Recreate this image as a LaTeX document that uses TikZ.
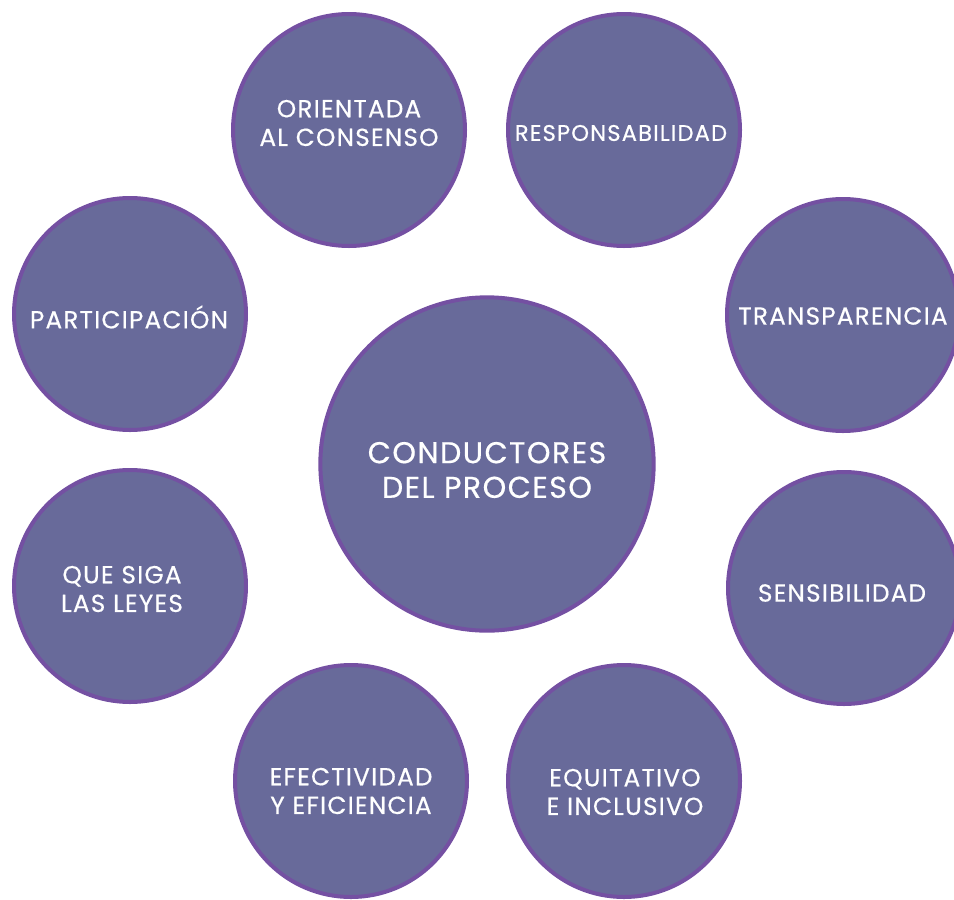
\documentclass[tikz,border=0pt]{standalone}
\usepackage{fontspec}
\setmainfont{Poppins}[LetterSpace=5,FakeBold=0.5]
\definecolor{bubblefill}{RGB}{104,106,154}
\definecolor{bubbleline}{RGB}{116,80,162}

\begin{document}
\begin{tikzpicture}[x=0.75pt,y=-0.75pt,
  bubble/.style={circle, draw=bubbleline, line width=3pt, fill=bubblefill,
    minimum size=174pt, inner sep=0pt},
  core/.style={bubble, minimum size=250pt},
  caption/.style={text=white, align=center, inner sep=0pt,
    font=\fontsize{18.5}{21.5}\selectfont},
  corecaption/.style={caption, font=\fontsize{22.5}{26}\selectfont}]

\useasboundingbox (0,0) rectangle (954,900);

% centre
\node[core] (core) at (487,464) {};
\node[corecaption] (core-t) at (487,470) {CONDUCTORES\\DEL PROCESO};

% ring of drivers
\node[bubble] (consenso) at (349,130) {};
\node[bubble] (respons)  at (624,130) {};
\node[bubble] (transp)   at (843,315) {};
\node[bubble] (sensib)   at (844,588) {};
\node[bubble] (equit)    at (624,781) {};
\node[bubble] (efect)    at (351,781) {};
\node[bubble] (leyes)    at (130,586) {};
\node[bubble] (particip) at (130,314) {};

% texts, a little off the centres as in the original
\node[caption] (consenso-t) at (349,123) {ORIENTADA\\AL CONSENSO};
\node[caption, font=\fontsize{17}{18}\selectfont] (respons-t) at (621,133) {RESPONSABILIDAD};
\node[caption] (transp-t)   at (843,316) {TRANSPARENCIA};
\node[caption] (sensib-t)   at (842,593) {SENSIBILIDAD};
\node[caption] (equit-t)    at (625,792) {EQUITATIVO\\E INCLUSIVO};
\node[caption] (efect-t)    at (351,791) {EFECTIVIDAD\\Y EFICIENCIA};
\node[caption] (leyes-t)    at (122,589) {QUE SIGA\\LAS LEYES};
\node[caption] (particip-t) at (129,317) {PARTICIPACIÓN};

\end{tikzpicture}
\end{document}
